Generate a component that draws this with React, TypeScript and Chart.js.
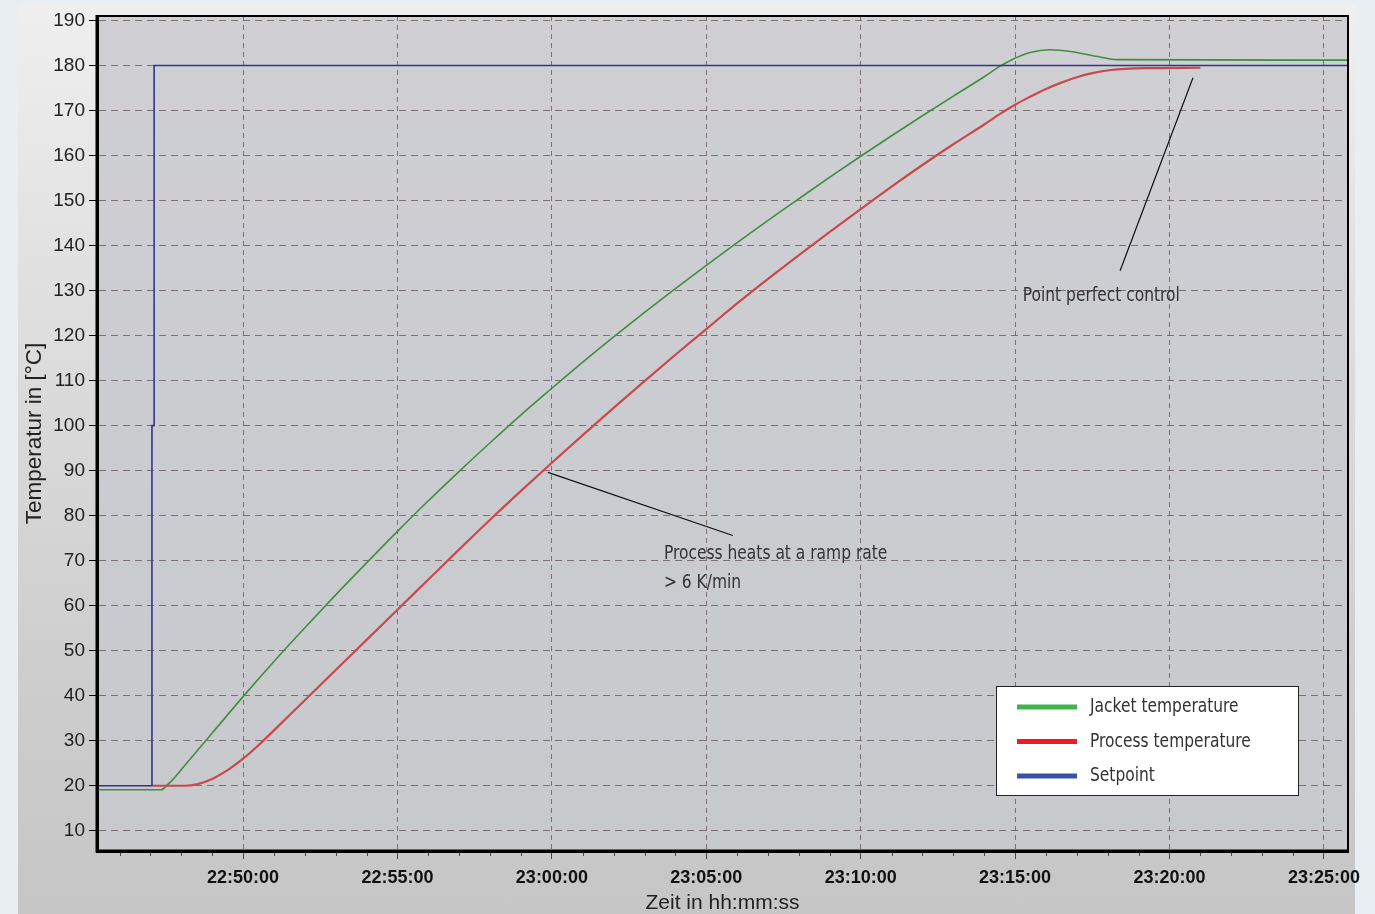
import React, { useEffect, useRef } from "react";
import { Chart, registerables } from "chart.js";

Chart.register(...registerables);

// Time axis: minutes since 22:00:00
const xMin = 45.27;
const xMax = 85.78;
const yMin = 5.5;
const yMax = 191;
const xStep = 5;
const yStep = 10;
const xMinorStep = 1;

const jacketTime = [45.27, 47.35, 47.55, 47.7, 48, 49, 50, 51, 52, 53, 54, 55, 56, 57, 58, 59, 60, 61, 62, 63, 64, 65, 66, 67, 68, 69, 70, 71, 72, 73, 74, 74.5, 74.93, 75.48, 76.13, 76.8, 77.2, 77.75, 78.3, 85.78];
const jacketTemp = [19.1, 19.1, 20.2, 21.2, 23.6, 31.7, 39.8, 47.6, 55.1, 62.4, 69.5, 76.5, 83.3, 89.85, 96.2, 102.4, 108.3, 114.1, 119.7, 125.15, 130.45, 135.6, 140.65, 145.6, 150.4, 155.2, 159.85, 164.4, 168.85, 173.2, 177.5, 179.8, 181.4, 182.9, 183.5, 183.1, 182.6, 181.9, 181.3, 181.2];

const processTime = [47.08, 48.1, 48.5, 49, 49.5, 50, 50.5, 51, 52, 53, 54, 55, 56, 57, 58, 59, 60, 61, 62, 63, 64, 65, 66, 67, 68, 69, 70, 71, 72, 73, 74, 74.5, 75, 75.5, 76, 76.5, 77, 77.5, 78.1, 79.2, 81];
const processTemp = [20, 20, 20.3, 21.5, 23.45, 26, 29, 32.3, 39, 45.7, 52.4, 59.1, 65.8, 72.5, 79.1, 85.5, 91.75, 97.9, 103.95, 109.9, 115.75, 121.45, 127.15, 132.6, 137.9, 143.05, 148.1, 153.1, 157.9, 162.5, 166.9, 169.2, 171.3, 173.1, 174.8, 176.2, 177.4, 178.3, 179, 179.4, 179.5];

const setpointTime = [45.27, 47.05, 47.05, 47.12, 47.12, 85.78];
const setpointTemp = [20, 20, 100, 100, 180, 180];

const seriesLabels = ["Jacket temperature", "Process temperature", "Setpoint"];
const lineColors = ["#3f8f3f", "#c84a4a", "#34348f"];
const legendColors = ["#3db54a", "#ed1c24", "#3953a4"];

// Annotations (data coordinates: minutes, °C)
const rampLine = [[59.87, 89.6], [65.86, 75.6]];
const rampText = ["Process heats at a ramp rate", "> 6 K/min"];
const rampTextPos = [[63.63, 71.6], [63.63, 65.1]];
const controlLine = [[80.76, 177.3], [78.4, 134.4]];
const controlText = ["Point perfect control"];
const controlTextPos = [[75.25, 128.9]];

const yTitle = "Temperatur in [°C]";
const xTitle = "Zeit in hh:mm:ss";

const annoFont = '20px "Liberation Sans Narrow", "DejaVu Sans Condensed", "Noto Sans", sans-serif';
const annoSqueeze = 0.86;
const axisFamily = '"Liberation Sans", Arial, sans-serif';

function fmtTime(v: number): string {
  const totalSec = Math.round(v * 60);
  const h = 22 + Math.floor(totalSec / 3600);
  const m = Math.floor((totalSec % 3600) / 60);
  const s = totalSec % 60;
  const p = (n: number) => String(n).padStart(2, "0");
  return `${p(h)}:${p(m)}:${p(s)}`;
}

const toXY = (xs: number[], ys: number[]) => xs.map((x, i) => ({ x, y: ys[i] }));

function narrowText(ctx: CanvasRenderingContext2D, t: string, x: number, y: number) {
  ctx.save();
  ctx.translate(x, y);
  ctx.scale(annoSqueeze, 1);
  ctx.fillText(t, 0, 0);
  ctx.restore();
}

const decorPlugin = {
  id: "decor",
  beforeDraw(chart: any) {
    const { ctx, chartArea: a } = chart;
    ctx.save();
    const g = ctx.createLinearGradient(0, a.top, 0, a.bottom);
    g.addColorStop(0, "#cfcfd4");
    g.addColorStop(1, "#c7c9cd");
    ctx.fillStyle = g;
    ctx.fillRect(a.left, a.top, a.right - a.left, a.bottom - a.top);
    ctx.restore();
  },
  afterDatasetsDraw(chart: any) {
    const { ctx } = chart;
    const xs = chart.scales.x;
    const ys = chart.scales.y;
    const px = (p: number[]) => [xs.getPixelForValue(p[0]), ys.getPixelForValue(p[1])];
    ctx.save();
    ctx.strokeStyle = "#111";
    ctx.lineWidth = 1.2;
    for (const ln of [rampLine, controlLine]) {
      const [x1, y1] = px(ln[0]);
      const [x2, y2] = px(ln[1]);
      ctx.beginPath();
      ctx.moveTo(x1, y1);
      ctx.lineTo(x2, y2);
      ctx.stroke();
    }
    ctx.font = annoFont;
    ctx.fillStyle = "#333";
    ctx.textAlign = "left";
    ctx.textBaseline = "middle";
    rampText.forEach((t, i) => {
      const [x, y] = px(rampTextPos[i]);
      narrowText(ctx, t, x, y);
    });
    controlText.forEach((t, i) => {
      const [x, y] = px(controlTextPos[i]);
      narrowText(ctx, t, x, y);
    });
    ctx.restore();
  },
  afterDraw(chart: any) {
    const { ctx, chartArea: a } = chart;
    const xs = chart.scales.x;
    ctx.save();
    // minor x ticks
    ctx.strokeStyle = "#444";
    ctx.lineWidth = 1;
    for (let v = Math.ceil(xMin); v <= xMax; v += xMinorStep) {
      if (v % xStep === 0) continue;
      const x = Math.round(xs.getPixelForValue(v)) + 0.5;
      ctx.beginPath();
      ctx.moveTo(x, a.bottom);
      ctx.lineTo(x, a.bottom + 5);
      ctx.stroke();
    }
    // frame
    ctx.strokeStyle = "#000";
    ctx.lineWidth = 2;
    ctx.beginPath();
    ctx.moveTo(a.left, a.top);
    ctx.lineTo(a.right, a.top);
    ctx.lineTo(a.right, a.bottom);
    ctx.stroke();
    ctx.lineWidth = 3;
    ctx.beginPath();
    ctx.moveTo(a.left, a.top - 1);
    ctx.lineTo(a.left, a.bottom);
    ctx.lineTo(a.right + 1, a.bottom);
    ctx.stroke();

    // legend box
    const bw = 302;
    const bh = 109;
    const bx = a.right - 50 - bw;
    const by = a.bottom - 56 - bh;
    ctx.fillStyle = "#ffffff";
    ctx.fillRect(bx, by, bw, bh);
    ctx.strokeStyle = "#222";
    ctx.lineWidth = 1;
    ctx.strokeRect(bx + 0.5, by + 0.5, bw, bh);
    ctx.font = annoFont;
    ctx.textAlign = "left";
    ctx.textBaseline = "middle";
    seriesLabels.forEach((lab, i) => {
      const cy = by + 21 + i * 34.5;
      ctx.fillStyle = legendColors[i];
      ctx.fillRect(bx + 21, cy - 2.5, 60, 5);
      ctx.fillStyle = "#333";
      narrowText(ctx, lab, bx + 94, cy);
    });
    ctx.restore();
  },
};

export default function App() {
  const ref = useRef<HTMLCanvasElement>(null);
  useEffect(() => {
    const canvas = ref.current!;
    const chart = new Chart(canvas, {
      type: "line",
      data: {
        datasets: [
          {
            label: seriesLabels[0],
            data: toXY(jacketTime, jacketTemp),
            borderColor: lineColors[0],
            borderWidth: 1.6,
            pointRadius: 0,
            cubicInterpolationMode: "monotone",
            order: 2,
          },
          {
            label: seriesLabels[1],
            data: toXY(processTime, processTemp),
            borderColor: lineColors[1],
            borderWidth: 2.2,
            pointRadius: 0,
            cubicInterpolationMode: "monotone",
            order: 1,
          },
          {
            label: seriesLabels[2],
            data: toXY(setpointTime, setpointTemp),
            borderColor: lineColors[2],
            borderWidth: 1.6,
            pointRadius: 0,
            tension: 0,
            order: 0,
          },
        ],
      },
      plugins: [decorPlugin],
      options: {
        animation: false,
        responsive: false,
        layout: { padding: { top: 16, right: 27, left: 0, bottom: 0 } },
        plugins: { legend: { display: false }, tooltip: { enabled: false } },
        scales: {
          x: {
            type: "linear",
            min: xMin,
            max: xMax,
            afterFit: (s: any) => {
              s.height = 63;
            },
            ticks: {
              stepSize: xStep,
              includeBounds: false,
              autoSkip: false,
              maxRotation: 0,
              padding: 8,
              color: "#111",
              font: { family: axisFamily, size: 18, weight: "bold" },
              callback: (v: any) => fmtTime(Number(v)),
            },
            grid: {
              color: "rgba(110,95,95,0.85)",
              lineWidth: 1,
              tickLength: 8,
              tickColor: "#444",
              tickBorderDash: [],
            },
            border: { display: true, color: "#000", width: 3, dash: [5, 4] },
            title: {
              display: true,
              text: xTitle,
              color: "#222",
              font: { family: axisFamily, size: 21, lineHeight: 1.05 },
              padding: { top: 0, bottom: 0 },
            },
          },
          y: {
            type: "linear",
            min: yMin,
            max: yMax,
            afterFit: (s: any) => {
              s.width = 97;
            },
            ticks: {
              stepSize: yStep,
              includeBounds: false,
              padding: 4,
              color: "#222",
              font: { family: axisFamily, size: 19 },
            },
            grid: {
              color: "rgba(110,95,95,0.85)",
              lineWidth: 1,
              tickLength: 8,
              tickColor: "#000",
              tickBorderDash: [],
            },
            border: { display: true, color: "#000", width: 3, dash: [7, 5] },
            title: {
              display: true,
              text: yTitle,
              color: "#222",
              font: { family: axisFamily, size: 22.5 },
              padding: { top: 21, bottom: 0 },
            },
          },
        },
      },
    } as any);
    return () => chart.destroy();
  }, []);

  return (
    <div
      style={{
        position: "absolute",
        left: 0,
        top: 0,
        width: 1375,
        height: 914,
        overflow: "hidden",
        background: "#e9eef3",
      }}
    >
      <div
        style={{
          position: "absolute",
          left: 18,
          top: 4,
          width: 1337,
          height: 910,
          background: "linear-gradient(#efefef 0%, #dedede 35%, #cdcdcd 75%, #c6c6c6 100%)",
        }}
      />
      <canvas ref={ref} width={1375} height={914} style={{ position: "absolute", left: 0, top: 0 }} />
    </div>
  );
}
